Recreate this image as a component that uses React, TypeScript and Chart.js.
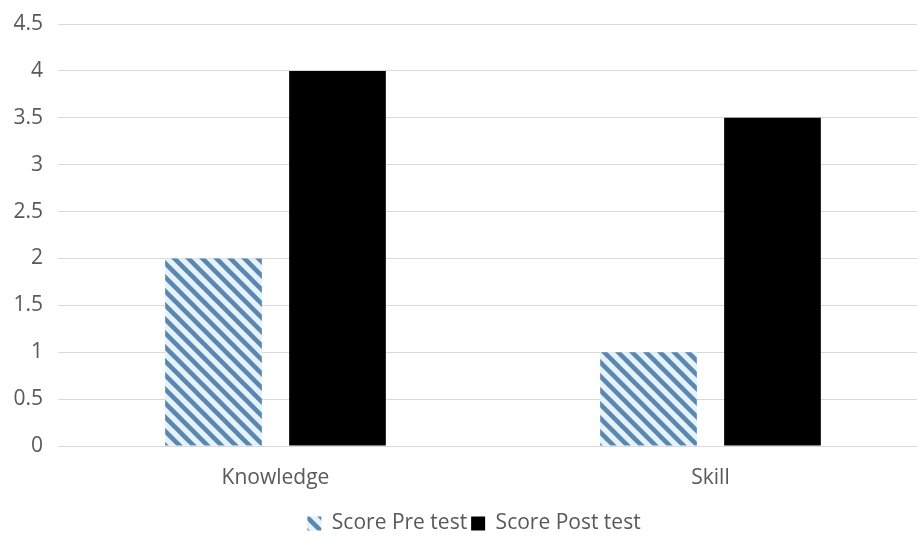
import React, { useEffect, useRef } from "react";
import { Chart, registerables } from "chart.js";

Chart.register(...registerables);

const categories = ["Knowledge", "Skill"];
const preTest = [2, 1];
const postTest = [4, 3.5];
const seriesNames = ["Score Pre test", "Score Post test"];
const yMin = 0;
const yMax = 4.5;
const yStep = 0.5;

function makeHatch(): CanvasPattern | string {
  const s = 14;
  const c = document.createElement("canvas");
  c.width = s;
  c.height = s;
  const g = c.getContext("2d");
  if (!g) return "#5e8ab4";
  g.fillStyle = "#e4f2fb";
  g.fillRect(0, 0, s, s);
  g.strokeStyle = "#5a86b0";
  g.lineWidth = 4.5;
  for (let k = -1; k <= 1; k++) {
    g.beginPath();
    g.moveTo(-4, -4 + k * s);
    g.lineTo(s + 4, s + 4 + k * s);
    g.stroke();
  }
  const p = g.createPattern(c, "repeat");
  return p || "#5e8ab4";
}

const shiftLegend = {
  id: "shiftLegend",
  afterLayout(chart: any) {
    const lg = chart.legend;
    if (lg) {
      lg.left += 10;
      lg.right += 10;
    }
  },
};

export default function App() {
  const ref = useRef<HTMLCanvasElement>(null);
  useEffect(() => {
    document.documentElement.style.overflow = "hidden";
    document.body.style.overflow = "hidden";
    const canvas = ref.current;
    if (!canvas) return;
    const hatch = makeHatch();
    const font = { family: "'Open Sans', sans-serif", size: 21 };
    const chart = new Chart(canvas, {
      type: "bar",
      data: {
        labels: categories,
        datasets: [
          {
            label: seriesNames[0],
            data: preTest,
            backgroundColor: hatch as any,
            borderWidth: 0,
          },
          {
            label: seriesNames[1],
            data: postTest,
            backgroundColor: "#000000",
            borderWidth: 0,
          },
        ],
      },
      plugins: [shiftLegend],
      options: {
        responsive: false,
        animation: false,
        layout: { padding: { top: 24, right: 0, bottom: 1, left: 0 } },
        datasets: {
          bar: { categoryPercentage: 0.57, barPercentage: 0.78 },
        },
        plugins: {
          tooltip: { enabled: false },
          legend: {
            position: "bottom",
            labels: {
              color: "#595959",
              font,
              boxWidth: 14,
              boxHeight: 14,
              padding: 4,
            },
          },
        },
        scales: {
          x: {
            grid: { display: false, drawTicks: false },
            border: { display: false },
            ticks: { color: "#595959", font, padding: 19 },
            afterFit: (s: any) => {
              s.height = 63;
            },
          },
          y: {
            min: yMin,
            max: yMax,
            grid: { color: "#d9d9d9", lineWidth: 1, drawTicks: false },
            border: { display: false },
            ticks: {
              stepSize: yStep,
              color: "#595959",
              font,
              padding: 15,
              callback: (v: any) => String(Number(v)),
            },
            afterFit: (s: any) => {
              s.width = 58;
              s.paddingTop = 0;
              s.paddingBottom = 0;
            },
          },
        },
      },
    });
    return () => chart.destroy();
  }, []);
  return (
    <div style={{ position: "fixed", left: 0, top: 0, width: 928, height: 545 }}>
      <canvas ref={ref} width={928} height={545} />
    </div>
  );
}
